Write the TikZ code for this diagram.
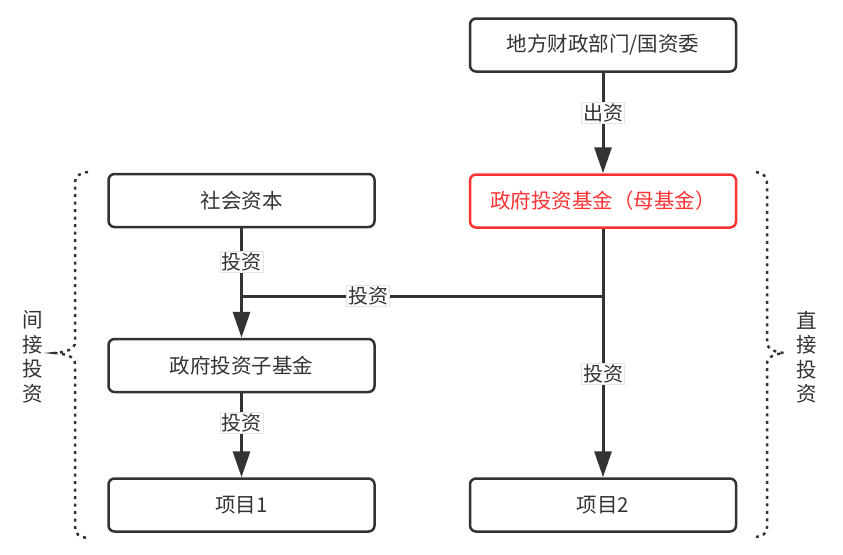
\documentclass[tikz,border=0pt]{standalone}
\usepackage{fontspec}
\setmainfont{Noto Sans CJK SC}
\usetikzlibrary{arrows.meta}
\definecolor{dk}{HTML}{333333}
\definecolor{rd}{HTML}{FF3333}
\begin{document}
\begin{tikzpicture}[x=1pt,y=-1pt,
 box/.style={draw=dk, line width=2.5pt, rounded corners=6pt, minimum width=266pt, minimum height=53pt, inner sep=0pt, font=\fontsize{20.5}{24}\selectfont, text=dk},
 redbox/.style={box, draw=rd, text=rd},
 plainline/.style={draw=dk, line width=3pt},
 conn/.style={plainline, -{Triangle[width=17pt,length=26pt]}},
 lbl/.style={fill=white, draw=gray!20, line width=0.6pt, inner sep=1.5pt, font=\fontsize{20}{20}\selectfont, text=dk},
 brace/.style={draw=dk, line width=2.5pt, dash pattern=on 3pt off 4.5pt},
 side/.style={font=\fontsize{20.5}{24.5}\selectfont, text=dk, align=center}]
\useasboundingbox (0,0) rectangle (843,554);
\node[box] (top) at (603,45) {地方财政部门/国资委};
\node[redbox] (mom) at (603,201) {政府投资基金（母基金）};
\node[box] (soc) at (241.5,200.5) {社会资本};
\node[box] (sub) at (241.5,365.5) {政府投资子基金};
\node[box] (p1) at (241.5,505) {项目1};
\node[box] (p2) at (603,505) {项目2};
\coordinate (j1) at (603,296);
\coordinate (j2) at (241.5,296);
\draw[conn] (top) -- (mom);
\draw[conn] (mom) -- (p2);
\draw[conn] (soc) -- (sub);
\draw[conn] (sub) -- (p1);
\draw[plainline] (j1) -- (j2);
\node[lbl] (l1) at (603,113) {出资};
\node[lbl] (l2) at (603,374) {投资};
\node[lbl] (l3) at (241.5,262) {投资};
\node[lbl] (l4) at (368,296) {投资};
\node[lbl] (l5) at (241.5,423) {投资};
\draw[brace] (88,172) .. controls (79,173) and (75,176) .. (75,184) -- (75,342) .. controls (75,350) and (65,352) .. (55,353) .. controls (65,354) and (75,356) .. (75,364) -- (75,527) .. controls (75,534) and (79,537) .. (88,538);
\draw[brace] (756,172) .. controls (763,173) and (767,176) .. (767,184) -- (767,342) .. controls (767,350) and (776,352) .. (784,353) .. controls (776,354) and (767,356) .. (767,364) -- (767,527) .. controls (767,534) and (762,537) .. (753,537);
\node[side] (lt) at (33,357) {间\\接\\投\\资};
\node[side] (rt) at (807,357) {直\\接\\投\\资};
\end{tikzpicture}
\end{document}
